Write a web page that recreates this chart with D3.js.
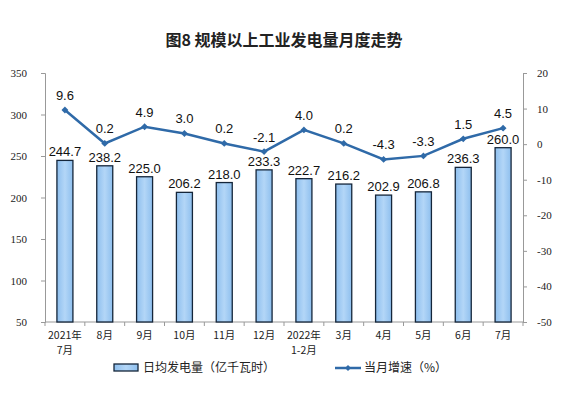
<!DOCTYPE html>
<html>
<head>
<meta charset="utf-8">
<script src="https://cdn.jsdelivr.net/npm/d3@7"></script>
<style>
  body { margin: 0; background: #fff; }
  text { font-family: "Liberation Sans", Arial, sans-serif; }
</style>
</head>
<body>
<div id="chart"></div>
<script>
var svgWidth = 568;
var svgHeight = 394;

// data
var months = ["2021年\n7月", "8月", "9月", "10月", "11月", "12月", "2022年\n1-2月", "3月", "4月", "5月", "6月", "7月"];
var dailyOutput = [244.7, 238.2, 225.0, 206.2, 218.0, 233.3, 222.7, 216.2, 202.9, 206.8, 236.3, 260.0];
var growthRate = [9.6, 0.2, 4.9, 3.0, 0.2, -2.1, 4.0, 0.2, -4.3, -3.3, 1.5, 4.5];
var leftTicks = [50, 100, 150, 200, 250, 300, 350];
var rightTicks = [-50, -40, -30, -20, -10, 0, 10, 20];

var margin = { top: 73, right: 45, bottom: 72, left: 45 };
var width = svgWidth - margin.left - margin.right;
var height = svgHeight - margin.top - margin.bottom;

var svg = d3.select("#chart")
  .append("svg")
  .attr("width", svgWidth)
  .attr("height", svgHeight);

var defs = svg.append("defs");
var grad = defs.append("linearGradient")
  .attr("id", "barFill")
  .attr("x1", "0").attr("x2", "1").attr("y1", "0").attr("y2", "0");
grad.append("stop").attr("offset", "0%").attr("stop-color", "#8ebfee");
grad.append("stop").attr("offset", "50%").attr("stop-color", "#b3d6f7");
grad.append("stop").attr("offset", "100%").attr("stop-color", "#8ebfee");

// title
svg.append("text")
  .attr("x", svgWidth / 2)
  .attr("y", 46)
  .attr("text-anchor", "middle")
  .style("font-family", "'Noto Sans CJK SC', sans-serif")
  .style("font-size", "16px")
  .style("font-weight", "bold")
  .attr("fill", "#222")
  .text("图8  规模以上工业发电量月度走势");

var chartGroup = svg.append("g")
  .attr("transform", `translate(${margin.left}, ${margin.top})`);

var xScale = d3.scaleBand()
  .domain(months)
  .range([0, width]);

var yLeft = d3.scaleLinear()
  .domain([50, 350])
  .range([height, 0]);

var yRight = d3.scaleLinear()
  .domain([-50, 20])
  .range([height, 0]);

// left axis
var leftAxis = chartGroup.append("g")
  .call(d3.axisLeft(yLeft).tickValues(leftTicks).tickSize(4).tickPadding(14)
    .tickFormat(d => String(d)));

// right axis
var rightAxis = chartGroup.append("g")
  .attr("transform", `translate(${width}, 0)`)
  .call(d3.axisRight(yRight).tickValues(rightTicks).tickSize(4).tickPadding(10)
    .tickFormat(d => String(d)));

[leftAxis, rightAxis].forEach(function (ax) {
  ax.select(".domain").attr("stroke", "#999");
  ax.selectAll(".tick line").attr("stroke", "#999");
  ax.selectAll(".tick text")
    .style("font-family", "'Liberation Serif', 'Times New Roman', serif")
    .style("font-size", "11px")
    .attr("fill", "#222");
});

// bottom axis line with ticks at band boundaries
var xAxis = chartGroup.append("g")
  .attr("transform", `translate(0, ${height})`);
xAxis.append("line")
  .attr("x1", 0).attr("x2", width)
  .attr("stroke", "#999");
xAxis.selectAll(".btick")
  .data(d3.range(months.length + 1))
  .enter()
  .append("line")
  .attr("x1", i => i * xScale.bandwidth())
  .attr("x2", i => i * xScale.bandwidth())
  .attr("y1", 0).attr("y2", 4)
  .attr("stroke", "#999");

xAxis.selectAll(".xlabel")
  .data(months)
  .enter()
  .append("text")
  .attr("text-anchor", "middle")
  .attr("x", d => xScale(d) + xScale.bandwidth() / 2)
  .attr("y", 17)
  .style("font-family", "'Noto Sans CJK SC', sans-serif")
  .style("font-size", "10.5px")
  .attr("fill", "#222")
  .each(function (d) {
    var parts = d.split("\n");
    var t = d3.select(this);
    parts.forEach(function (p, i) {
      t.append("tspan")
        .attr("x", xScale(d) + xScale.bandwidth() / 2)
        .attr("dy", i === 0 ? 0 : 15)
        .text(p);
    });
  });

// bars
var barWidth = 16;
chartGroup.selectAll(".bar")
  .data(dailyOutput)
  .enter()
  .append("rect")
  .attr("x", (d, i) => xScale(months[i]) + (xScale.bandwidth() - barWidth) / 2)
  .attr("y", d => yLeft(d))
  .attr("width", barWidth)
  .attr("height", d => height - yLeft(d))
  .attr("fill", "url(#barFill)")
  .attr("stroke", "#15263a")
  .attr("stroke-width", 1.3);

chartGroup.selectAll(".barLabel")
  .data(dailyOutput)
  .enter()
  .append("text")
  .attr("text-anchor", "middle")
  .attr("x", (d, i) => xScale(months[i]) + xScale.bandwidth() / 2)
  .attr("y", d => yLeft(d) - 4)
  .style("font-size", "13px")
  .attr("fill", "#111")
  .text(d => d.toFixed(1));

// line
var line = d3.line()
  .x((d, i) => xScale(months[i]) + xScale.bandwidth() / 2)
  .y(d => yRight(d));

chartGroup.append("path")
  .datum(growthRate)
  .attr("d", line)
  .attr("fill", "none")
  .attr("stroke", "#2f6aa8")
  .attr("stroke-width", 2.5);

chartGroup.selectAll(".marker")
  .data(growthRate)
  .enter()
  .append("path")
  .attr("d", d3.symbol().type(d3.symbolDiamond2).size(30))
  .attr("transform", (d, i) => `translate(${xScale(months[i]) + xScale.bandwidth() / 2}, ${yRight(d)})`)
  .attr("fill", "#2f6aa8");

chartGroup.selectAll(".lineLabel")
  .data(growthRate)
  .enter()
  .append("text")
  .attr("text-anchor", "middle")
  .attr("x", (d, i) => xScale(months[i]) + xScale.bandwidth() / 2)
  .attr("y", d => yRight(d) - 10)
  .style("font-size", "13px")
  .attr("fill", "#111")
  .text(d => d.toFixed(1));

// legend
var legend = svg.append("g")
  .attr("transform", "translate(0, 367)");

legend.append("rect")
  .attr("x", 114).attr("y", -3)
  .attr("width", 24).attr("height", 7)
  .attr("fill", "url(#barFill)")
  .attr("stroke", "#15263a")
  .attr("stroke-width", 1.3);

legend.append("text")
  .attr("x", 143).attr("y", 5)
  .style("font-family", "'Noto Sans CJK SC', sans-serif")
  .style("font-size", "12px")
  .attr("fill", "#222")
  .text("日均发电量（亿千瓦时）");

legend.append("line")
  .attr("x1", 335).attr("x2", 361)
  .attr("y1", 1).attr("y2", 1)
  .attr("stroke", "#2f6aa8")
  .attr("stroke-width", 2.5);

legend.append("path")
  .attr("d", d3.symbol().type(d3.symbolDiamond2).size(24))
  .attr("transform", "translate(348, 1)")
  .attr("fill", "#2f6aa8");

legend.append("text")
  .attr("x", 364).attr("y", 5)
  .style("font-family", "'Noto Sans CJK SC', sans-serif")
  .style("font-size", "12px")
  .attr("fill", "#222")
  .text("当月增速（%）");
</script>
</body>
</html>
